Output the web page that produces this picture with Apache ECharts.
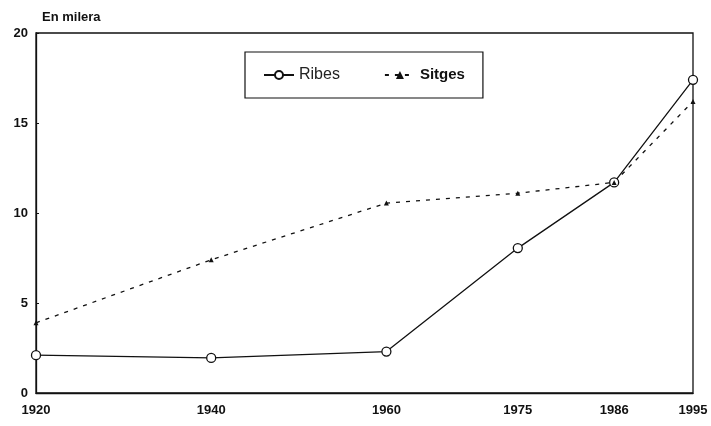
<!DOCTYPE html>
<html>
<head>
<meta charset="utf-8">
<script src="https://cdn.jsdelivr.net/npm/echarts@6/dist/echarts.min.js"></script>
<style>
  html, body { margin: 0; padding: 0; background: #fff; }
  #chart { width: 711px; height: 426px; }
</style>
</head>
<body>
<div id="chart"></div>
<script>
// dades
var years = [1920, 1940, 1960, 1975, 1986, 1995];
var ribes = [2.1, 1.95, 2.3, 8.05, 11.7, 17.4];
var sitges = [3.9, 7.4, 10.55, 11.1, 11.7, 16.2];
var yTicks = [0, 5, 10, 15, 20];

var myChart = echarts.init(document.getElementById('chart'));

function pairs(vals) {
    return years.map(function (y, i) { return [y, vals[i]]; });
}

var option = {
    animation: false,
    backgroundColor: '#fff',
    title: {
        text: 'En milera',
        left: 37,
        top: 6,
        textStyle: { fontFamily: 'Liberation Sans', fontWeight: 'bold', fontSize: 13, color: '#111' }
    },
    legend: {
        left: 245,
        top: 52,
        padding: [15, 18, 15, 18],
        itemGap: 44,
        itemWidth: 30,
        itemHeight: 10,
        borderColor: '#111',
        borderWidth: 1.2,
        textStyle: { fontFamily: 'Liberation Sans', fontSize: 16, color: '#222' },
        data: [
            { name: 'Ribes' },
            { name: 'Sitges', textStyle: { fontWeight: 'bold', fontSize: 15, color: '#111' } }
        ]
    },
    grid: {
        left: 36,
        right: 18,
        top: 33,
        bottom: 33,
        show: true,
        borderColor: '#111',
        borderWidth: 1.3
    },
    xAxis: {
        type: 'value',
        min: 1920,
        max: 1995,
        splitLine: { show: false },
        axisLine: { lineStyle: { color: '#111', width: 1.3 } },
        axisTick: { show: false },
        axisLabel: {
            customValues: years,
            formatter: function (v) { return String(v); },
            margin: 11,
            fontFamily: 'Liberation Sans',
            fontWeight: 'bold',
            fontSize: 13,
            color: '#111'
        }
    },
    yAxis: {
        type: 'value',
        min: 0,
        max: 20,
        interval: 5,
        splitLine: { show: false },
        axisLine: { show: true, lineStyle: { color: '#111', width: 1.3 } },
        axisTick: { show: true, length: 3, inside: true, customValues: yTicks, lineStyle: { color: '#111' } },
        axisLabel: {
            customValues: yTicks,
            margin: 8,
            fontFamily: 'Liberation Sans',
            fontWeight: 'bold',
            fontSize: 13,
            color: '#111'
        }
    },
    series: [
        {
            name: 'Ribes',
            type: 'line',
            data: pairs(ribes),
            symbol: 'circle',
            symbolSize: 9,
            showAllSymbol: true,
            lineStyle: { color: '#111', width: 1.3 },
            itemStyle: { color: '#fff', borderColor: '#111', borderWidth: 1.3 }
        },
        {
            name: 'Sitges',
            type: 'line',
            data: pairs(sitges),
            symbol: 'triangle',
            symbolSize: 5,
            lineStyle: { color: '#111', width: 1.3, type: [4, 6] },
            itemStyle: { color: '#111' }
        }
    ]
};

myChart.setOption(option);
window.addEventListener('resize', function () {
    myChart.resize();
});
</script>
</body>
</html>
